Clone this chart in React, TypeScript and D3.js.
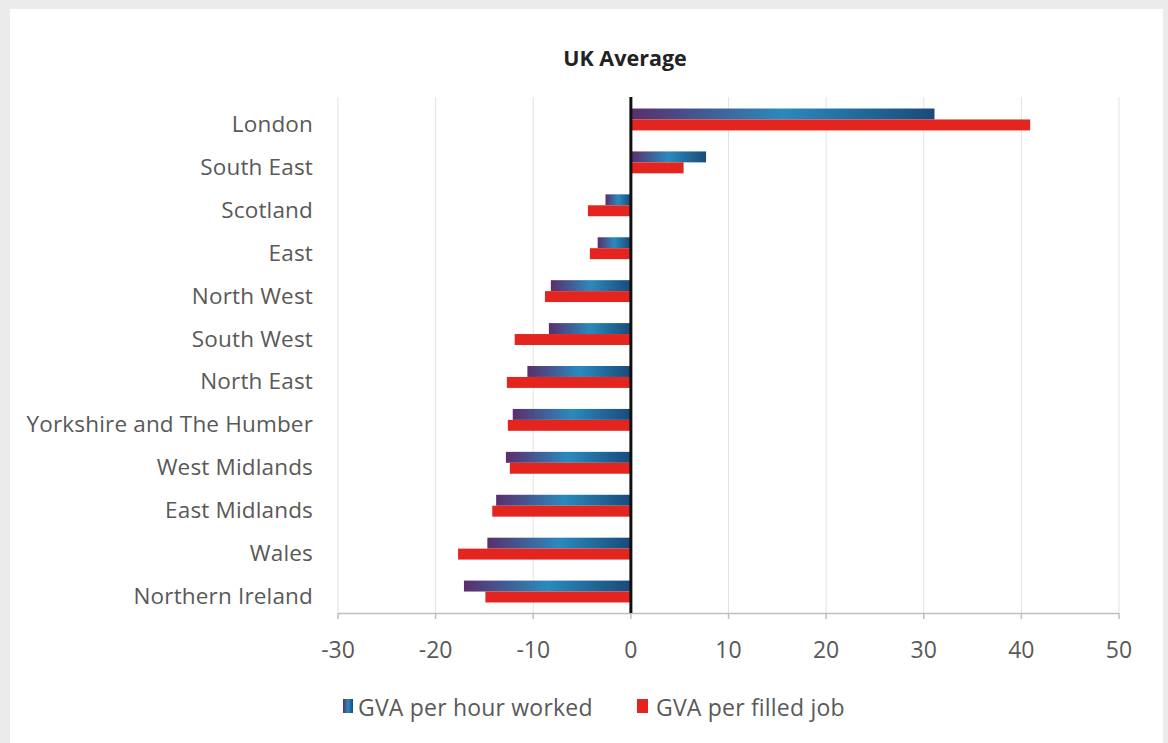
import React from "react";
import * as d3 from "d3";

const categories = [
  "London",
  "South East",
  "Scotland",
  "East",
  "North West",
  "South West",
  "North East",
  "Yorkshire and The Humber",
  "West Midlands",
  "East Midlands",
  "Wales",
  "Northern Ireland",
];
const perHour = [31.1, 7.7, -2.6, -3.4, -8.2, -8.4, -10.6, -12.1, -12.8, -13.8, -14.7, -17.1];
const perJob = [40.9, 5.4, -4.4, -4.2, -8.8, -11.9, -12.7, -12.6, -12.4, -14.2, -17.7, -14.9];
const seriesNames = ["GVA per hour worked", "GVA per filled job"];
const xTicks = [-30, -20, -10, 0, 10, 20, 30, 40, 50];

const W = 1168;
const H = 743;
const FONT = "'Open Sans', sans-serif";

export default function App() {
  const x = d3.scaleLinear().domain([-30, 50]).range([338, 1119]);
  const y = d3
    .scaleBand<string>()
    .domain(categories)
    .range([98, 613])
    .paddingInner(0.49)
    .paddingOuter(0.245);
  const sub = d3.scaleBand<string>().domain(seriesNames).range([0, y.bandwidth()]);
  const series = [perHour, perJob];
  const fills = ["url(#blueGrad)", "#e3241f"];

  return (
    <svg
      width={W}
      height={H}
      style={{ position: "absolute", left: 0, top: 0 }}
      fontFamily={FONT}
    >
      <defs>
        <linearGradient id="blueGrad" x1="0" x2="1" y1="0" y2="0">
          <stop offset="0" stopColor="#5a2e6c" />
          <stop offset="0.5" stopColor="#2a8abd" />
          <stop offset="1" stopColor="#194a7a" />
        </linearGradient>
      </defs>
      <rect x={0} y={0} width={W} height={H} fill="#ebebeb" />
      <rect x={10} y={9} width={1153} height={H - 9} fill="#ffffff" />

      <text x={625} y={66} textAnchor="middle" fontSize={21.5} fontWeight="bold" fill="#222">
        UK Average
      </text>

      {xTicks.map((t) => (
        <line
          key={"g" + t}
          x1={x(t)}
          x2={x(t)}
          y1={97}
          y2={613}
          stroke="#e3e3e3"
          strokeWidth={1}
        />
      ))}

      {categories.map((c, i) => (
        <g key={c}>
          {series.map((s, k) => {
            const v = s[i];
            const x0 = x(Math.min(0, v));
            const x1 = x(Math.max(0, v));
            return (
              <rect
                key={k}
                x={x0}
                y={(y(c) as number) + (sub(seriesNames[k]) as number)}
                width={x1 - x0}
                height={sub.bandwidth()}
                fill={fills[k]}
              />
            );
          })}
          <text
            x={313}
            y={(y(c) as number) + y.bandwidth() / 2 + 12.5}
            textAnchor="end"
            fontSize={22.5}
            letterSpacing={0.17}
            fill="#595959"
          >
            {c}
          </text>
        </g>
      ))}

      <line x1={x(-30)} x2={x(50)} y1={613.5} y2={613.5} stroke="#bfbfbf" strokeWidth={1.5} />
      {xTicks.map((t) => (
        <g key={"t" + t}>
          <line x1={x(t)} x2={x(t)} y1={613} y2={619} stroke="#bfbfbf" strokeWidth={1.5} />
          <text x={x(t)} y={658} textAnchor="middle" fontSize={23} fill="#595959">
            {t}
          </text>
        </g>
      ))}
      <line x1={x(0)} x2={x(0)} y1={97} y2={613} stroke="#111" strokeWidth={3} />

      <rect x={343} y={699} width={10} height={14} fill="url(#blueGrad)" />
      <text x={358} y={716} fontSize={23} letterSpacing={0.2} fill="#595959">
        {seriesNames[0]}
      </text>
      <rect x={637} y={699} width={11} height={14} fill="#e3241f" />
      <text x={656} y={716} fontSize={23} letterSpacing={0.2} fill="#595959">
        {seriesNames[1]}
      </text>
    </svg>
  );
}
